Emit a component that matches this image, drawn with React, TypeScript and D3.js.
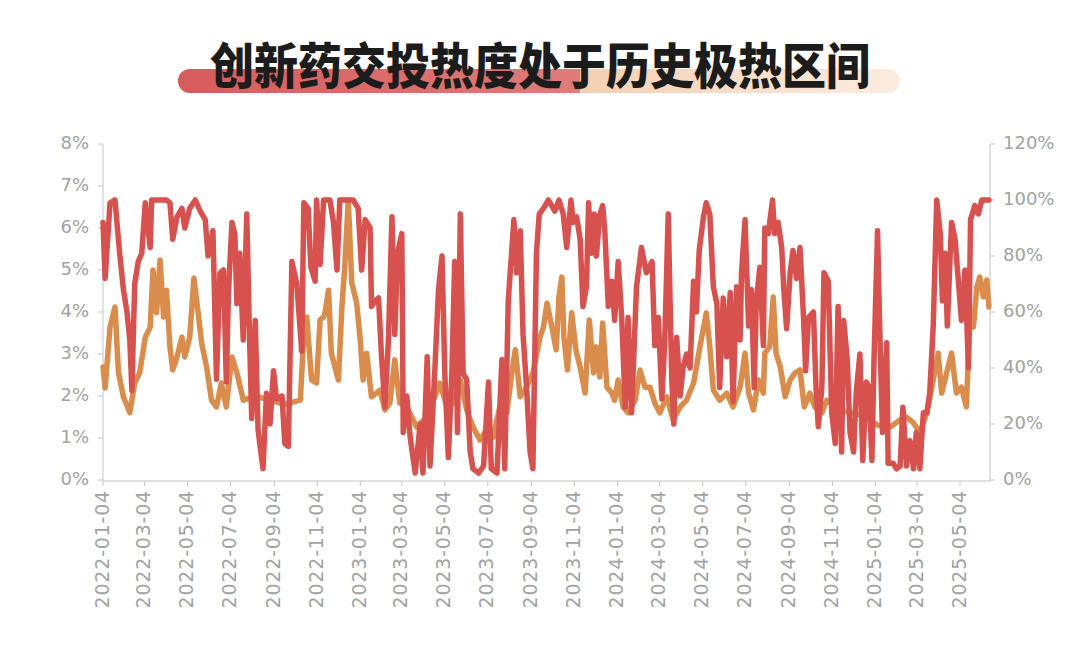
import React from 'react';
import * as d3 from 'd3';

const TITLE = '创新药交投热度处于历史极热区间';
const START_DATE = '2022-01-04';
const X_END_TICK = '2025-05-04';

const xTickLabels = [
  '2022-01-04', '2022-03-04', '2022-05-04', '2022-07-04', '2022-09-04', '2022-11-04',
  '2023-01-04', '2023-03-04', '2023-05-04', '2023-07-04', '2023-09-04', '2023-11-04',
  '2024-01-04', '2024-03-04', '2024-05-04', '2024-07-04', '2024-09-04', '2024-11-04',
  '2025-01-04', '2025-03-04', '2025-05-04',
];
const leftTicks = [0, 1, 2, 3, 4, 5, 6, 7, 8];
const rightTicks = [0, 20, 40, 60, 80, 100, 120];

// red series (right axis, %) : day offsets from START_DATE and values
const redDays = [
  0, 3, 10, 17, 24, 29, 34, 38, 41, 45,
  50, 55, 60, 67, 69, 83, 90, 95, 99, 105,
  112, 116, 123, 131, 138, 145, 149, 156, 161, 166,
  171, 175, 178, 183, 187, 190, 194, 199, 204, 208,
  211, 216, 220, 227, 232, 237, 242, 246, 254, 258,
  263, 268, 275, 282, 285, 291, 295, 301, 303, 308,
  313, 322, 327, 332, 336, 348, 355, 362, 367, 372,
  379, 381, 386, 391, 395, 400, 405, 410, 414, 418,
  424, 426, 431, 436, 443, 450, 454, 460, 464, 471,
  476, 481, 485, 490, 495, 499, 503, 507, 511, 516,
  521, 525, 533, 540, 547, 551, 559, 566, 570, 575,
  580, 583, 587, 592, 596, 601, 606, 610, 615, 619,
  625, 632, 641, 647, 653, 658, 664, 667, 672, 677,
  681, 686, 689, 693, 697, 700, 705, 709, 712, 717,
  722, 726, 731, 736, 741, 745, 750, 757, 764, 771,
  779, 783, 788, 793, 797, 802, 807, 810, 814, 819,
  823, 828, 833, 838, 842, 846, 852, 856, 861, 866,
  871, 875, 880, 885, 890, 894, 899, 904, 906, 911,
  916, 920, 924, 927, 932, 937, 939, 944, 950, 953,
  958, 963, 966, 970, 975, 979, 984, 989, 994, 997,
  1001, 1008, 1012, 1015, 1020, 1023, 1029, 1034, 1039, 1043,
  1048, 1051, 1056, 1060, 1065, 1069, 1074, 1078, 1083, 1087,
  1091, 1094, 1099, 1102, 1106, 1112, 1114, 1121, 1126, 1131,
  1135, 1140, 1145, 1150, 1154, 1159, 1164, 1169, 1173, 1178,
  1183, 1188, 1191, 1195, 1198, 1204, 1209, 1214, 1218, 1223,
  1228, 1231, 1237, 1242, 1247, 1251, 1257,
];
const redValues = [
  92, 72, 99, 100, 80, 68, 60, 50, 32, 70,
  78, 81, 99, 83, 100, 100, 100, 99, 86, 94,
  97, 90, 97, 100, 96, 93, 80, 89, 36, 74,
  75, 35, 67, 92, 88, 63, 81, 50, 95, 50,
  22, 57, 18, 4, 31, 20, 39, 29, 30, 13,
  12, 78, 70, 46, 99, 97, 76, 71, 100, 77,
  100, 100, 92, 75, 100, 100, 100, 97, 75, 93,
  90, 62, 64, 65, 45, 26, 50, 94, 52, 81,
  88, 17, 30, 15, 2.5, 20, 2.5, 44, 5, 40,
  68, 80, 38, 8, 38, 78, 17, 95, 38, 36,
  10, 4, 2.5, 5, 35, 4, 2.5, 43, 4, 64,
  82, 93, 74, 89, 52, 33, 10, 4, 81, 95,
  97, 100, 96, 100, 95, 83, 100, 92, 94, 86,
  62, 69, 99, 81, 95, 80, 95, 98, 89, 62,
  71, 57, 78, 58, 26, 58, 24, 69, 83, 74,
  78, 48, 58, 29, 49, 95, 36, 20, 51, 30,
  40, 45, 40, 71, 60, 82, 94, 99, 95, 69,
  63, 33, 65, 44, 67, 28, 69, 50, 74, 93,
  55, 68, 33, 64, 76, 48, 90, 88, 100, 88,
  92, 83, 68, 54, 74, 82, 72, 83, 58, 39,
  58, 60, 31, 19, 33, 74, 71, 24, 13, 62,
  10, 57, 43, 17, 10, 32, 45, 7, 35, 33,
  7, 43, 89, 55, 17, 49, 6, 6, 4, 5,
  26, 5, 14, 4, 17, 4, 24, 24, 31, 55,
  100, 88, 64, 81, 55, 92, 86, 70, 57, 75,
  40, 93, 98, 95, 100, 100, 100,
];

// orange series (left axis, %)
const orangeDays = [
  0, 3, 10, 17, 22, 29, 38, 45, 52, 60,
  67, 71, 76, 81, 86, 90, 95, 99, 105, 112,
  116, 123, 129, 135, 140, 147, 154, 161, 168, 175,
  183, 190, 199, 216, 237, 258, 280, 284, 289, 296,
  303, 308, 313, 315, 320, 324, 334, 339, 343, 348,
  353, 360, 365, 369, 374, 381, 388, 393, 400, 407,
  414, 421, 431, 445, 459, 473, 478, 488, 497, 507,
  516, 525, 535, 544, 554, 563, 573, 580, 585, 592,
  601, 610, 620, 625, 630, 637, 643, 647, 651, 654,
  659, 665, 671, 677, 684, 690, 696, 700, 705, 709,
  715, 722, 726, 731, 738, 745, 755, 762, 769, 776,
  783, 790, 800, 809, 819, 828, 838, 847, 856, 861,
  866, 875, 885, 894, 904, 911, 916, 923, 930, 937,
  939, 946, 951, 955, 961, 968, 975, 982, 989, 995,
  1003, 1010, 1020, 1027, 1046, 1074, 1100, 1117, 1131, 1140,
  1150, 1159, 1169, 1178, 1185, 1190, 1197, 1204, 1211, 1218,
  1225, 1230, 1235, 1240, 1244, 1249, 1254, 1257,
];
const orangeValues = [
  2.69, 2.19, 3.64, 4.12, 2.55, 1.98, 1.6, 2.31, 2.55, 3.4,
  3.64, 5.0, 3.98, 5.24, 3.88, 4.52, 3.17, 2.62, 2.93, 3.4,
  2.93, 3.4, 4.81, 3.98, 3.26, 2.69, 1.9, 1.74, 2.31, 1.74,
  2.93, 2.55, 1.9, 2.0, 1.9, 1.8, 1.9, 3.17, 3.88, 2.38,
  2.31, 3.81, 3.88, 3.98, 4.52, 3.02, 2.38, 4.12, 5.07, 6.67,
  4.69, 4.21, 3.33, 2.38, 3.02, 1.98, 2.07, 2.14, 1.67, 1.83,
  2.86, 1.83, 1.74, 1.26, 1.5, 2.07, 2.31, 1.74, 1.83, 2.38,
  1.67, 1.26, 0.95, 1.19, 1.02, 1.74, 1.6, 2.55, 3.1, 1.98,
  2.21, 2.55, 3.4, 3.64, 4.21, 3.64, 3.1, 4.36, 4.83, 3.4,
  2.62, 3.98, 3.1, 2.69, 2.07, 3.81, 2.55, 3.17, 2.45, 3.74,
  2.21, 2.07, 1.9, 2.38, 1.74, 1.6, 1.9, 2.62, 2.21, 2.21,
  1.83, 1.6, 1.98, 1.43, 1.74, 1.9, 2.31, 3.17, 3.98, 3.17,
  2.14, 1.9, 2.07, 1.74, 2.21, 3.02, 2.07, 1.67, 2.38, 2.07,
  3.02, 3.17, 4.36, 3.02, 2.69, 1.98, 2.38, 2.55, 2.62, 1.74,
  2.07, 1.74, 1.6, 1.9, 1.67, 1.55, 1.3, 1.26, 1.43, 1.5,
  1.36, 1.12, 1.6, 2.38, 3.02, 2.07, 2.55, 3.02, 2.07, 2.21,
  1.74, 3.81, 3.64, 4.6, 4.83, 4.36, 4.76, 4.12,
];

const RED = '#d7524f';
const ORANGE = '#d98c4b';
const AXIS = '#c4c4c4';
const LABEL = '#a2a2a2';
const FONT = '"DejaVu Sans", sans-serif';

export default function App() {
  const W = 1080;
  const H = 666;
  const plotL = 103;
  const plotR = 990;
  const plotT = 144;
  const plotB = 480;

  const parse = d3.utcParse('%Y-%m-%d');
  const start = parse(START_DATE) as Date;
  const x = d3
    .scaleUtc()
    .domain([start, parse(X_END_TICK) as Date])
    .range([plotL, 960]);
  const yL = d3.scaleLinear().domain([0, 8]).range([plotB, plotT]);
  const yR = d3.scaleLinear().domain([0, 120]).range([plotB, plotT]);

  const n1 = Math.min(redDays.length, redValues.length);
  const redData: [Date, number][] = [];
  for (let i = 0; i < n1; i++) redData.push([d3.utcDay.offset(start, redDays[i]), redValues[i]]);
  const n2 = Math.min(orangeDays.length, orangeValues.length);
  const orangeData: [Date, number][] = [];
  for (let i = 0; i < n2; i++)
    orangeData.push([d3.utcDay.offset(start, orangeDays[i]), orangeValues[i]]);

  const redLine = d3
    .line<[Date, number]>()
    .x((d) => x(d[0]))
    .y((d) => yR(d[1]));
  const orangeLine = d3
    .line<[Date, number]>()
    .x((d) => x(d[0]))
    .y((d) => yL(d[1]));

  const barL = 178;
  const barR = 900;
  const barSplit = 580;
  const barT = 69;
  const barH = 24;

  return (
    <svg
      width={W}
      height={H}
      viewBox={`0 0 ${W} ${H}`}
      style={{ position: 'absolute', left: 0, top: 0, background: '#fff', display: 'block' }}
    >
      <defs>
        <linearGradient id="peach" x1="0" x2="1" y1="0" y2="0">
          <stop offset="0%" stopColor="#f2c3a4" />
          <stop offset="55%" stopColor="#f4cfb2" />
          <stop offset="100%" stopColor="#fbece0" />
        </linearGradient>
        <linearGradient id="redbar" x1="0" x2="1" y1="0" y2="0">
          <stop offset="0%" stopColor="#d75b5d" />
          <stop offset="100%" stopColor="#e69690" />
        </linearGradient>
        <clipPath id="leftclip">
          <rect x={barL} y={barT - 2} width={barSplit - barL} height={barH + 4} />
        </clipPath>
      </defs>

      {/* title highlight bar */}
      <rect x={barL} y={barT} width={barR - barL} height={barH} rx={barH / 2} fill="url(#peach)" />
      <rect
        x={barL}
        y={barT}
        width={barR - barL}
        height={barH}
        rx={barH / 2}
        fill="url(#redbar)"
        clipPath="url(#leftclip)"
      />
      <text
        transform="translate(540,84) scale(1,1.1)"
        textAnchor="middle"
        fontFamily='"Noto Sans CJK SC", sans-serif'
        fontWeight={900}
        fontSize={44}
        fill="#1c1c1c"
      >
        {TITLE}
      </text>

      {/* axes */}
      <line x1={plotL} x2={plotL} y1={plotT} y2={plotB + 1} stroke={AXIS} strokeWidth={1} />
      <line x1={plotR} x2={plotR} y1={plotT} y2={plotB + 1} stroke={AXIS} strokeWidth={1} />
      <line x1={plotL} x2={plotR} y1={plotB + 1} y2={plotB + 1} stroke={AXIS} strokeWidth={1} />

      {leftTicks.map((t) => (
        <g key={'l' + t}>
          <line x1={plotL - 5} x2={plotL} y1={yL(t)} y2={yL(t)} stroke={AXIS} />
          <text
            x={plotL - 14}
            y={yL(t)}
            textAnchor="end"
            dominantBaseline="middle"
            fontFamily={FONT}
            fontSize={18}
            fill={LABEL}
          >
            {t + '%'}
          </text>
        </g>
      ))}
      {rightTicks.map((t) => (
        <g key={'r' + t}>
          <line x1={plotR} x2={plotR + 5} y1={yR(t)} y2={yR(t)} stroke={AXIS} />
          <text
            x={plotR + 13}
            y={yR(t)}
            textAnchor="start"
            dominantBaseline="middle"
            fontFamily={FONT}
            fontSize={18}
            fill={LABEL}
          >
            {t + '%'}
          </text>
        </g>
      ))}
      {xTickLabels.map((s) => {
        const px = x(parse(s) as Date);
        return (
          <g key={s}>
            <line x1={px} x2={px} y1={plotB + 1} y2={plotB + 6} stroke={AXIS} />
            <text
              transform={`translate(${px},${plotB + 10}) rotate(-90)`}
              textAnchor="end"
              dominantBaseline="middle"
              fontFamily={FONT}
              fontSize={19}
              letterSpacing={0.8}
              fill={LABEL}
            >
              {s}
            </text>
          </g>
        );
      })}

      {/* series */}
      <path
        d={orangeLine(orangeData) || ''}
        fill="none"
        stroke={ORANGE}
        strokeWidth={5.5}
        strokeLinejoin="round"
        strokeLinecap="round"
      />
      <path
        d={redLine(redData) || ''}
        fill="none"
        stroke={RED}
        strokeWidth={5.5}
        strokeLinejoin="round"
        strokeLinecap="round"
      />
    </svg>
  );
}
